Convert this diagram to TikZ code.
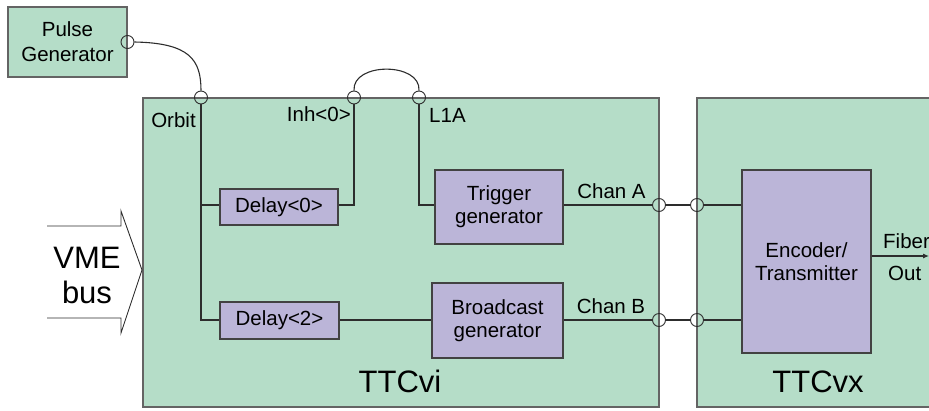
\documentclass[tikz,border=0pt]{standalone}
\usepackage{fontspec}
\setmainfont{Liberation Sans}
\usetikzlibrary{arrows.meta}
\definecolor{boardgreen}{RGB}{181,221,200}
\definecolor{chippurple}{RGB}{187,181,216}
\definecolor{edgegray}{RGB}{100,100,100}
\definecolor{wire}{RGB}{45,45,45}
\tikzset{
  board/.style={draw=edgegray, fill=boardgreen, line width=1.1pt, inner sep=0pt},
  chip/.style={draw=wire!90, fill=chippurple, line width=1.1pt, inner sep=0pt,
    align=center, font=\fontsize{20.5}{23}\selectfont},
  port/.style={draw=wire, line width=0.9pt, circle, minimum size=13pt, inner sep=0pt},
  lbl/.style={inner sep=0pt, font=\fontsize{20.5}{23}\selectfont},
  biglbl/.style={inner sep=0pt, font=\fontsize{31}{35}\selectfont},
  sig/.style={draw=wire, line width=1.1pt},
}
\begin{document}
\begin{tikzpicture}[x=1pt, y=-1pt]
\useasboundingbox (0,0) rectangle (929,410);
\clip (0,0) rectangle (929,410);

% boards
\node[board, minimum width=119pt, minimum height=70pt, align=center,
      font=\fontsize{20.5}{25}\selectfont] (pulse) at (67.5,42) {Pulse\\Generator};
\node[board, minimum width=516pt, minimum height=309pt] (ttcvi) at (401,252.5) {};
\node[board, minimum width=250pt, minimum height=309pt] (ttcvx) at (822,252.5) {};

% functional blocks
\node[chip, minimum width=118pt, minimum height=36pt] (d0) at (279,207) {Delay<0>};
\node[chip, minimum width=119pt, minimum height=37pt] (d2) at (279.5,320.5) {Delay<2>};
\node[chip, minimum width=128pt, minimum height=74pt] (trig) at (499,207) {Trigger\\generator};
\node[chip, minimum width=131pt, minimum height=75pt] (bcast) at (497.5,320.5) {Broadcast\\generator};
\node[chip, minimum width=129pt, minimum height=183pt] (enc) at (806.5,261.5) {Encoder/\\Transmitter};

% connectors
\node[port] (pgout) at (127.5,42) {};
\node[port] (orbit) at (201,97.5) {};
\node[port] (inh) at (354,97.5) {};
\node[port] (l1a) at (419,97.5) {};
\node[port] (chaA) at (659,205) {};
\node[port] (chbA) at (697,205) {};
\node[port] (chaB) at (659,320) {};
\node[port] (chbB) at (697,320) {};

% labels
\node[lbl, anchor=base] at (173.5,127) {Orbit};
\node[lbl, anchor=base east] at (351,121) {Inh<0>};
\node[lbl, anchor=base west] at (429,122) {L1A};
\node[lbl, anchor=base] at (611.5,198) {Chan A};
\node[lbl, anchor=base] at (611,313) {Chan B};
\node[lbl, anchor=base west] at (883,248) {Fiber};
\node[lbl, anchor=base west] at (888,280) {Out};
\node[biglbl, anchor=base] at (400,392) {TTCvi};
\node[biglbl, anchor=base] at (818,392) {TTCvx};
\node[biglbl, anchor=base] at (87,268) {VME};
\node[biglbl, anchor=base] at (87,303) {bus};

% wiring
\coordinate (orbitfoot) at (201,320);
\coordinate (inhknee) at (354,205);
\coordinate (l1aknee) at (419,205);
\coordinate (fiberend) at (929,256);

\path[sig] (pgout.east) .. controls (190,43) and (201,60) .. (orbit.north);
\path[sig] (inh.north) .. controls (352,62) and (421,62) .. (l1a.north);

\path[sig] (orbit.south) -- (orbitfoot) -- (d2.west |- orbitfoot);
\path[sig] (orbit.south |- 0,205) -- (d0.west |- 0,205);
\path[sig] (d0.east |- 0,205) -- (inhknee) -- (inh.south);
\path[sig] (l1a.south) -- (l1aknee) -- (trig.west |- l1aknee);
\path[sig] (d2.east |- 0,320) -- (bcast.west |- 0,320);

\path[sig] (trig.east |- 0,205) -- (chaA.west);
\path[sig] (chaA.east) -- (chbA.west);
\path[sig] (chbA.east) -- (enc.west |- 0,205);
\path[sig] (bcast.east |- 0,320) -- (chaB.west);
\path[sig] (chaB.east) -- (chbB.west);
\path[sig] (chbB.east) -- (enc.west |- 0,320);

\path[sig, -{Latex[length=6pt,width=5pt]}] (enc.east |- fiberend) -- (fiberend);

% VME bus arrow
\draw[wire, line width=0.9pt, line join=miter]
  (47,226) -- (121,226) -- (121,211) -- (142,270) -- (121,333) -- (121,318) -- (47,318);
\end{tikzpicture}
\end{document}
